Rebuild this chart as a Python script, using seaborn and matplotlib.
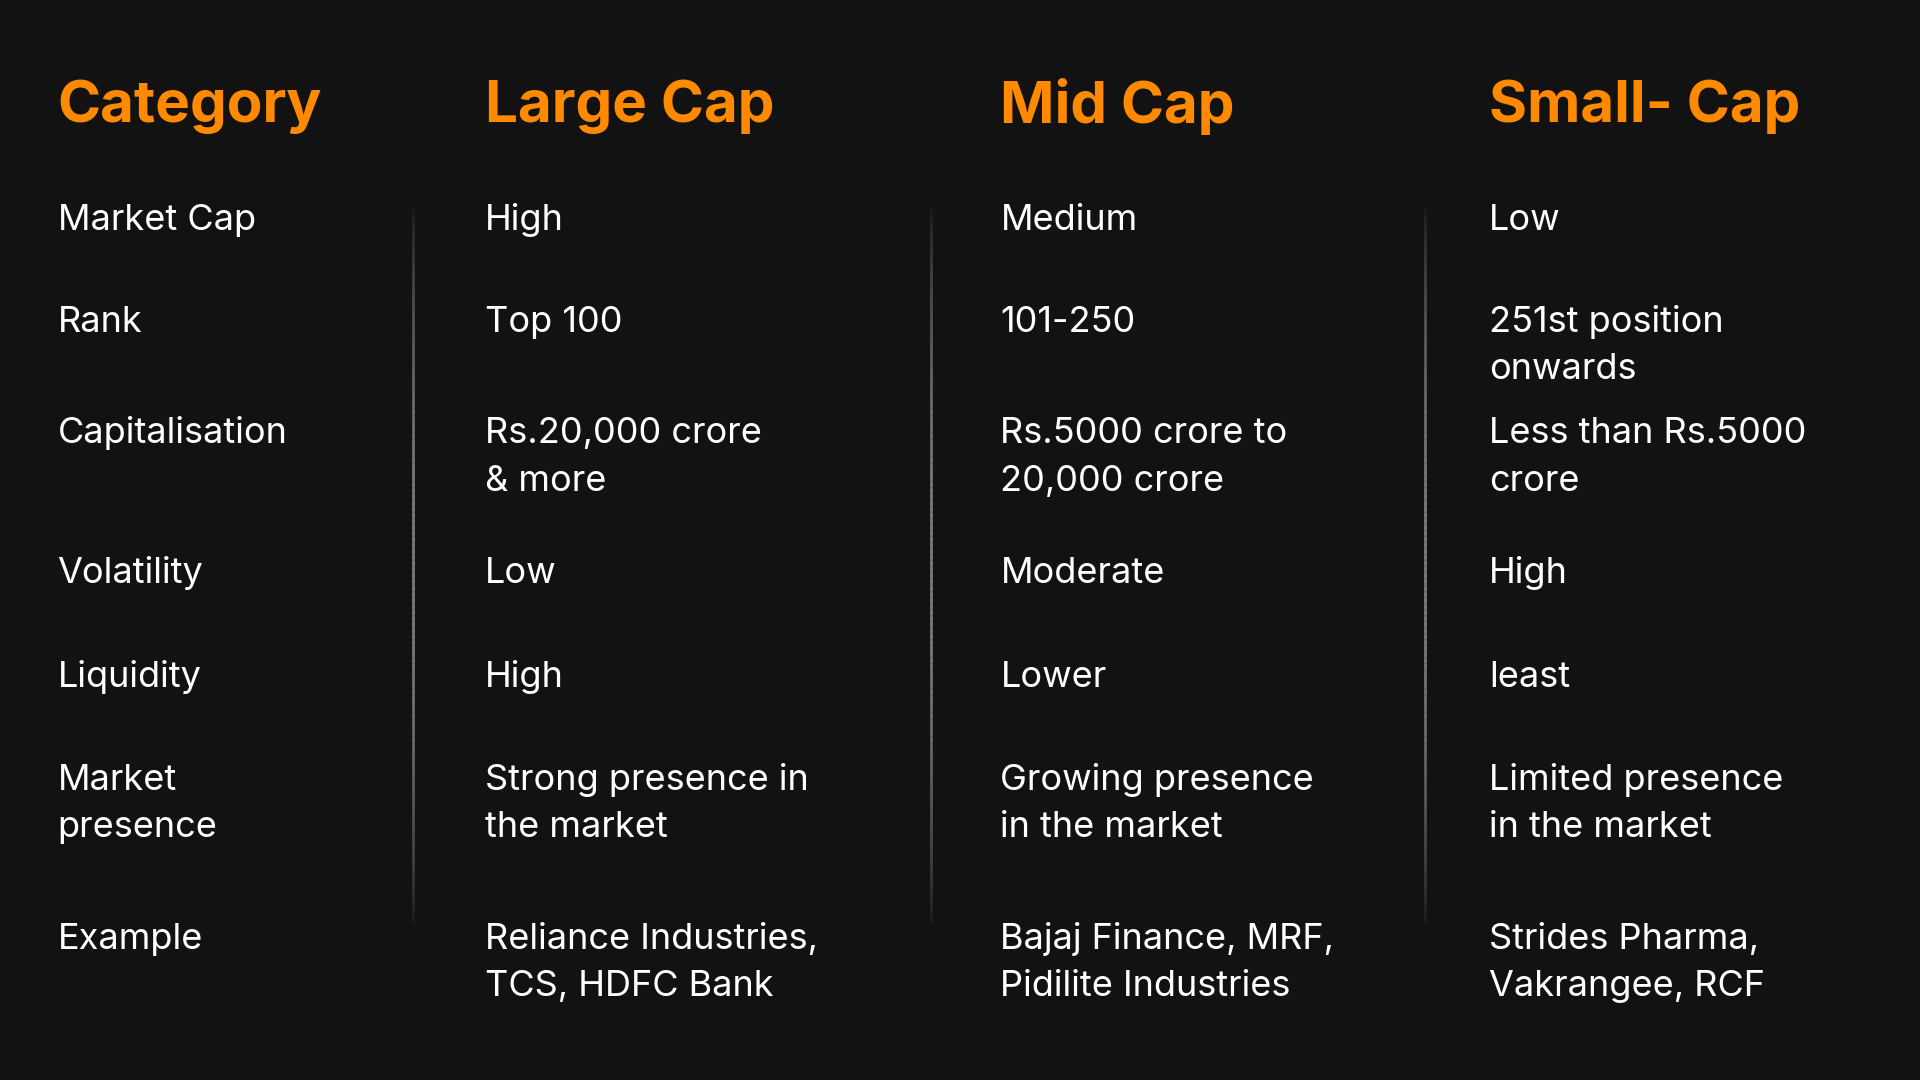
import matplotlib
matplotlib.use("Agg")
import matplotlib.pyplot as plt
import numpy as np
import seaborn as sns

# table content
headers = ["Category", "Large Cap", "Mid Cap", "Small- Cap"]
categories = ["Market Cap", "Rank", "Capitalisation", "Volatility", "Liquidity",
              "Market\npresence", "Example"]
large_cap = ["High", "Top 100", "Rs.20,000 crore\n& more", "Low", "High",
             "Strong presence in\nthe market", "Reliance Industries,\nTCS, HDFC Bank"]
mid_cap = ["Medium", "101-250", "Rs.5000 crore to\n20,000 crore", "Moderate", "Lower",
           "Growing presence\nin the market", "Bajaj Finance, MRF,\nPidilite Industries"]
small_cap = ["Low", "251st position\nonwards", "Less than Rs.5000\ncrore", "High", "least",
             "Limited presence\nin the market", "Strides Pharma,\nVakrangee, RCF"]

bg = "#121212"
orange = "#FF8A00"
sns.set_theme(style="dark", rc={"figure.facecolor": bg, "axes.facecolor": bg,
                                 "font.family": "Poppins, Inter, DejaVu Sans".split(", ")[1]})

fig = plt.figure(figsize=(19.2, 10.8), dpi=100)
ax = fig.add_axes([0, 0, 1, 1])
ax.set_xlim(0, 1568)
ax.set_ylim(882, 0)
ax.axis("off")

col_x = [47, 396, 817, 1216]
row_y = [180, 263, 354, 468, 553, 637, 767]
line_gap = 39

for x, h in zip(col_x, headers):
    ax.text(x, 87, h, color=orange, fontsize=42, fontweight="bold", va="center", ha="left")

columns = [categories, large_cap, mid_cap, small_cap]
for x, col in zip(col_x, columns):
    for y, cell in zip(row_y, col):
        for i, line in enumerate(cell.split("\n")):
            ax.text(x, y + i * line_gap, line, color="white", fontsize=26,
                    va="center", ha="left")

# faded dividers
ys = np.linspace(165, 755, 120)
for dx in [337, 760, 1164]:
    for y0, y1 in zip(ys[:-1], ys[1:]):
        t = (y0 - 165) / 590
        a = np.sin(np.pi * t) ** 0.7
        ax.plot([dx, dx], [y0, y1], color="#9a9a9a", alpha=0.8 * a, lw=2,
                solid_capstyle="butt")

fig.savefig("out.png", dpi=100, facecolor=bg)
